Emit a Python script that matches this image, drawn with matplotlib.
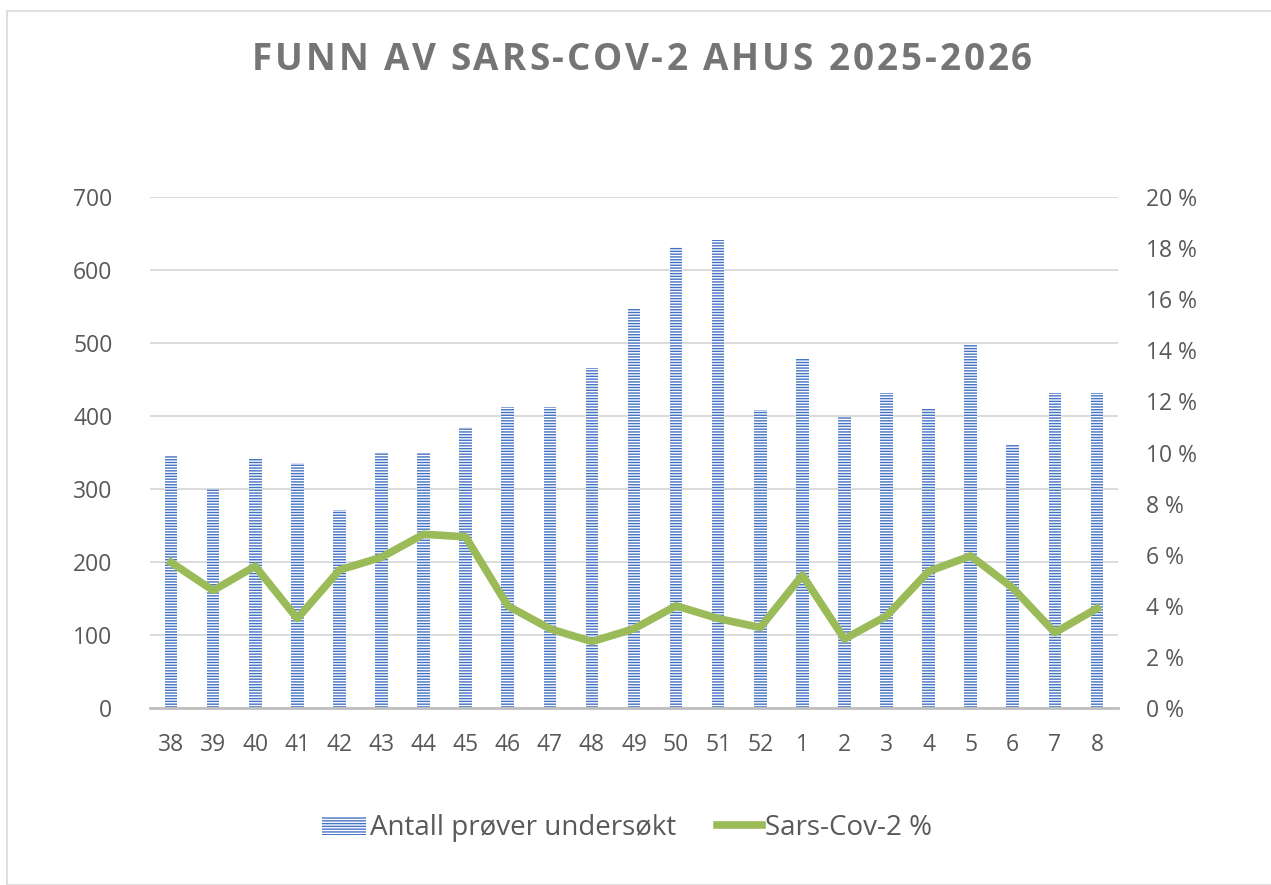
import matplotlib
matplotlib.use("Agg")
import matplotlib.pyplot as plt
from matplotlib.patches import Rectangle
from matplotlib.ticker import FuncFormatter

weeks=["38","39","40","41","42","43","44","45","46","47","48","49","50","51","52",
       "1","2","3","4","5","6","7","8"]
antall=[347,300,341,336,271,351,350,385,413,413,466,547,632,641,408,
        479,399,432,409,499,360,431,432]
pct=[5.7,4.6,5.55,3.5,5.4,5.9,6.8,6.7,4.0,3.1,2.6,3.1,4.0,3.5,3.15,
     5.2,2.7,3.6,5.35,5.95,4.7,2.95,3.9]
title="FUNN AV SARS-COV-2 AHUS 2025-2026"

grey="#595959"
plt.rcParams["font.family"]=["Open Sans","DejaVu Sans"]
plt.rcParams["hatch.linewidth"]=1.0

W,H=1271,885
fig=plt.figure(figsize=(W/100,H/100),dpi=100)
fig.patches.append(Rectangle((7/W,0),1.2,1-11/H,transform=fig.transFigure,
                             fill=False,edgecolor="#d9d9d9",linewidth=1.2))

ax=fig.add_axes([150/W,(H-708)/H,968/W,511/H])
x=list(range(len(weeks)))
bars=ax.bar(x,antall,width=0.3,color="white",edgecolor="#4472c4",hatch="------",
            linewidth=0,label="Antall prøver undersøkt",zorder=2)
ax.set_xlim(-0.5,len(weeks)-0.5)
ax.set_ylim(0,700)
ax.set_yticks(range(0,701,100))
ax.set_xticks(x)
ax.set_xticklabels(weeks)
ax.grid(axis="y",color="#d9d9d9",linewidth=1.3,zorder=0)
ax.set_axisbelow(True)
for s in ["top","right","left"]:
    ax.spines[s].set_visible(False)
ax.spines["bottom"].set_color("#bfbfbf")
ax.spines["bottom"].set_linewidth(2)
ax.tick_params(axis="both",length=0,labelsize=16.5,labelcolor=grey)
ax.tick_params(axis="y",pad=27)
ax.tick_params(axis="x",pad=18)

ax2=ax.twinx()
line,=ax2.plot(x,pct,color="#9bbb59",linewidth=5.5,label="Sars-Cov-2 %",zorder=3)
ax2.set_ylim(0,20)
ax2.set_yticks(range(0,21,2))
ax2.yaxis.set_major_formatter(FuncFormatter(lambda v,p:f"{int(v)} %"))
for s in ax2.spines.values():
    s.set_visible(False)
ax2.tick_params(axis="y",length=0,labelsize=16.5,labelcolor=grey,pad=20)

# title with letter spacing, one glyph at a time
tkw=dict(fontsize=26.5,fontweight="bold",color="#757575")
fig.canvas.draw()
r=fig.canvas.get_renderer()
def tw(s):
    t=fig.text(0,0,s,**tkw)
    w=t.get_window_extent(r).width
    t.remove()
    return w
x0,x1=252,1032
full=tw(title)
sp=(x1-x0-full)/(len(title)-1)
for i,ch in enumerate(title):
    if ch==" ":
        continue
    off=tw(title[:i]) if i>0 else 0
    fig.text((x0+off+i*sp)/W,1-70/H,ch,ha="left",va="baseline",**tkw)

fig.legend(handles=[bars,line],loc="center",bbox_to_anchor=(627/W,1-828/H),
           ncol=2,frameon=False,fontsize=20,labelcolor=grey,handlelength=1.6,
           handletextpad=0.12,columnspacing=1.5)

fig.savefig("out.png",dpi=100,facecolor="white")
